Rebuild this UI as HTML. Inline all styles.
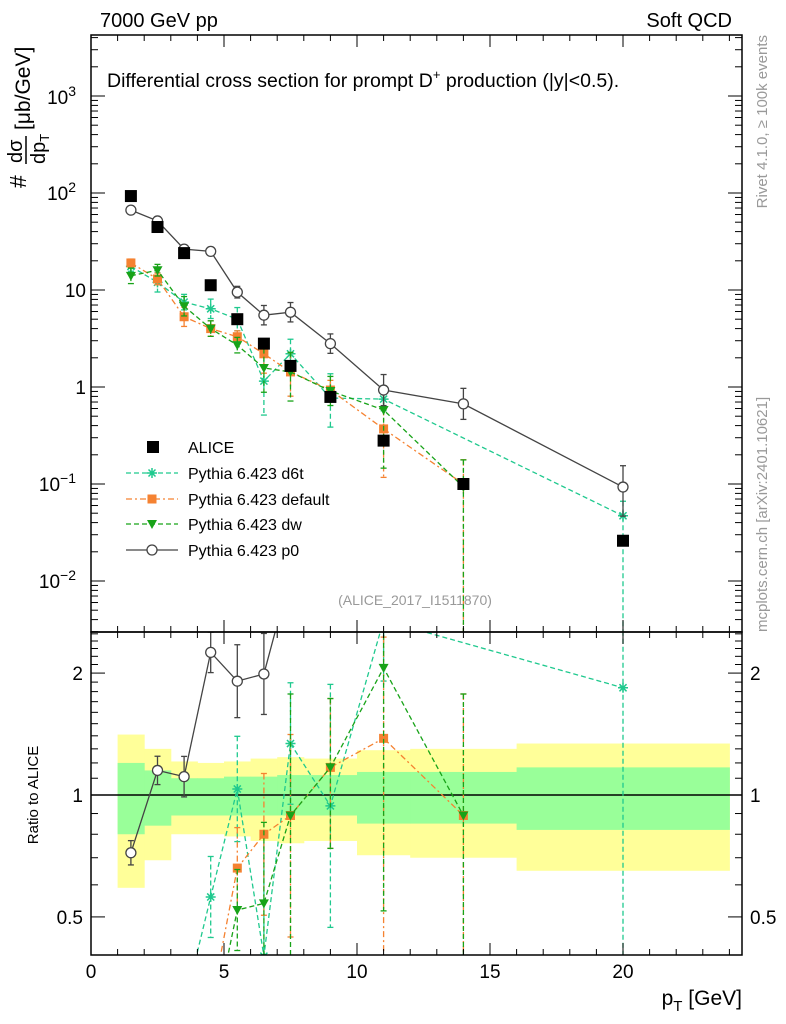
<!DOCTYPE html>
<html><head><meta charset="utf-8"><style>
html,body{margin:0;background:#fff;overflow:hidden;width:786px;height:1024px;}
svg{display:block;}
svg text{font-family:"Liberation Sans",Arial,sans-serif;}
</style></head><body>
<svg id="c" width="786" height="1024" style="position:absolute;left:0;top:0" xmlns="http://www.w3.org/2000/svg"></svg>
<script>
const xs=[1.5,2.5,3.5,4.5,5.5,6.5,7.5,9,11,14,20];
const alice=[93,44.6,24,11.2,5.0,2.8,1.65,0.79,0.28,0.10,0.026];
const p0=[66.6,51.5,26.4,25,9.5,5.5,5.9,2.8,0.93,0.67,0.093];
const p0Up=[0.01,0.02,0.03,0.02,0.06,0.1,0.1,0.1,0.16,0.16,0.22];
const p0Dn=[0.01,0.02,0.03,0.02,0.06,0.1,0.1,0.1,0.16,0.16,0.3];
const d6tX=[1.5,2.5,3.5,4.5,5.5,6.5,7.5,9,11,20];
const d6t=[17.5,12,7.5,6.4,5.0,1.15,2.2,0.77,0.75,0.047];
const d6tUp=[0.05,0.1,0.08,0.1,0.12,0.3,0.15,0.25,0.12,0.15];
const d6tDn=[0.05,0.1,0.08,0.1,0.12,0.35,0.15,0.3,0.12,3];
const defX=[1.5,2.5,3.5,4.5,5.5,6.5,7.5,9,11,14];
const def=[19,13,5.3,4.0,3.3,2.2,1.43,0.93,0.37,0.10];
const defUp=[0.04,0.06,0.1,0.08,0.06,0.15,0.2,0.1,0.2,0.25];
const defDn=[0.04,0.06,0.1,0.08,0.06,0.2,0.25,0.1,0.5,3];
const dwX=[1.5,2.5,3.5,4.5,5.5,6.5,7.5,9,11,14];
const dw=[14,16,6.8,4.0,2.7,1.57,1.43,0.91,0.58,0.093];
const dwUp=[0.08,0.06,0.1,0.08,0.08,0.2,0.2,0.15,0.25,0.28];
const dwDn=[0.08,0.06,0.1,0.08,0.08,0.25,0.3,0.15,0.6,3];
const rP0X=[1.5,2.5,3.5,4.5,5.5,6.5,7.5];
const rP0=[0.72,1.15,1.11,2.25,1.91,1.99,3.5];
const rP0Up=[0.03,0.035,0.05,0.05,0.09,0.1,0.1];
const rP0Dn=[0.03,0.035,0.05,0.05,0.09,0.1,0.1];
const rD6tX=[3.5,4.5,5.5,6.5,7.5,9,11,20];
const rD6t=[0.3,0.56,1.035,0.40,1.34,0.94,2.7,1.84];
const rD6tUp=[0.1,0.1,0.13,0.3,0.15,0.3,0.15,0.2];
const rD6tDn=[0.1,0.1,0.13,0.3,0.15,0.3,0.15,3];
const rDefX=[4.5,5.5,6.5,7.5,9,11,14];
const rDef=[0.3,0.66,0.80,0.89,1.17,1.38,0.89];
const rDefUp=[0.1,0.1,0.15,0.2,0.17,0.25,0.3];
const rDefDn=[0.1,0.1,0.2,0.3,0.2,0.8,3];
const rDwX=[4.5,5.5,6.5,7.5,9,11,14];
const rDw=[0.25,0.52,0.54,0.89,1.17,2.06,0.89];
const rDwUp=[0.1,0.1,0.2,0.3,0.17,0.2,0.3];
const rDwDn=[0.1,0.1,0.3,0.35,0.2,0.6,3];
const binEdges=[1,2,3,4,5,6,7,8,10,12,16,24];
const yelHi=[1.41,1.30,1.21,1.20,1.21,1.23,1.24,1.23,1.29,1.30,1.34];
const yelLo=[0.59,0.69,0.80,0.80,0.79,0.77,0.76,0.77,0.71,0.70,0.65];
const grnHi=[1.20,1.15,1.10,1.10,1.11,1.11,1.12,1.12,1.14,1.14,1.17];
const grnLo=[0.80,0.84,0.89,0.89,0.89,0.89,0.89,0.89,0.85,0.85,0.82];

const S=document.getElementById('c');const NS='http://www.w3.org/2000/svg';
function el(t,a,p){const e=document.createElementNS(NS,t);for(const k in a)e.setAttribute(k,a[k]);(p||S).appendChild(e);return e;}
const L=91,R=742,T=35,M=632,B=955;
const X=v=>L+v*(623-L)/20;
const Y=v=>387-97*Math.log10(v);
const RY=v=>795-405*Math.log10(v);
const clipM=el('clipPath',{id:'cm'});el('rect',{x:L,y:T,width:R-L,height:M-T},clipM);
const clipR=el('clipPath',{id:'cr'});el('rect',{x:L,y:M,width:R-L,height:B-M},clipR);

const bandG=el('g',{'clip-path':'url(#cr)'});


for(let i=0;i<yelHi.length;i++){
 const r=el('rect',{x:X(binEdges[i]),y:RY(yelHi[i]),width:X(binEdges[i+1])-X(binEdges[i])+0.5,height:RY(yelLo[i])-RY(yelHi[i]),fill:'#ffff99'},bandG);
 
 
}
for(let i=0;i<grnHi.length;i++){
 const r=el('rect',{x:X(binEdges[i]),y:RY(grnHi[i]),width:X(binEdges[i+1])-X(binEdges[i])+0.5,height:RY(grnLo[i])-RY(grnHi[i]),fill:'#99ff99'},bandG);
 
 
}
el('line',{x1:L,x2:R,y1:RY(1),y2:RY(1),stroke:'#000','stroke-width':1.5});

function marker(type,x,y,c,g){
 if(type==='sq')el('rect',{x:x-6,y:y-6,width:12,height:12,fill:c},g);
 else if(type==='osq')el('rect',{x:x-4.5,y:y-4.5,width:9,height:9,fill:c},g);
 else if(type==='circ')el('circle',{cx:x,cy:y,r:5,fill:'#fff',stroke:c,'stroke-width':1.3},g);
 else if(type==='tri')el('path',{d:`M${x-5},${y-4}L${x+5},${y-4}L${x},${y+5}Z`,fill:c},g);
 else if(type==='star'){let d='';for(let k=0;k<4;k++){const a=k*Math.PI/4;d+=`M${x-5*Math.cos(a)},${y-5*Math.sin(a)}L${x+5*Math.cos(a)},${y+5*Math.sin(a)}`;}el('path',{d,stroke:c,'stroke-width':1.5},g);}
}
function series(name,xa,ya,eu,ed,Yf,c,dash,type,clip){
 const g=el('g',{'clip-path':`url(#${clip})`});
 
 
 let d='';xa.forEach((x,i)=>{d+=(i?'L':'M')+X(x)+','+Yf(ya[i]);});
 el('path',{d,fill:'none',stroke:c,'stroke-width':1.3,'stroke-dasharray':dash},g);
 xa.forEach((x,i)=>{const v=ya[i];const y1=Yf(v*Math.pow(10,eu[i])),y2=Yf(v*Math.pow(10,-ed[i]));
  el('line',{x1:X(x),x2:X(x),y1,y2,stroke:c,'stroke-width':1.3,'stroke-dasharray':dash},g);
  el('line',{x1:X(x)-3,x2:X(x)+3,y1,y2:y1,stroke:c,'stroke-width':1.3},g);
  el('line',{x1:X(x)-3,x2:X(x)+3,y1:y2,y2:y2,stroke:c,'stroke-width':1.3},g);});
 xa.forEach((x,i)=>marker(type,X(x),Yf(ya[i]),c,g));
}
const cD6t='#1fc98e',cDef='#f58231',cDw='#18a318',cP0='#444';
series('series-d6t',d6tX,d6t,d6tUp,d6tDn,Y,cD6t,'5,3','star','cm');
series('series-default',defX,def,defUp,defDn,Y,cDef,'6,3,2,3','osq','cm');
series('series-dw',dwX,dw,dwUp,dwDn,Y,cDw,'5,3','tri','cm');
series('series-p0',xs,p0,p0Up,p0Dn,Y,cP0,'','circ','cm');
const ga=el('g',{'clip-path':'url(#cm)'});


xs.forEach((x,i)=>marker('sq',X(x),Y(alice[i]),'#000',ga));

series('ratio-d6t',rD6tX,rD6t,rD6tUp,rD6tDn,RY,cD6t,'5,3','star','cr');
series('ratio-default',rDefX,rDef,rDefUp,rDefDn,RY,cDef,'6,3,2,3','osq','cr');
series('ratio-dw',rDwX,rDw,rDwUp,rDwDn,RY,cDw,'5,3','tri','cr');
series('ratio-p0',rP0X,rP0,rP0Up,rP0Dn,RY,cP0,'','circ','cr');

el('rect',{x:L,y:T,width:R-L,height:M-T,fill:'none',stroke:'#000','stroke-width':1.5});
el('rect',{x:L,y:M,width:R-L,height:B-M,fill:'none',stroke:'#000','stroke-width':1.5});
for(let v=0;v<=24;v++){const len=v%5===0?12:6;const x=X(v);
 [[T,1],[M,-1],[M,1],[B,-1]].forEach(([y,s])=>el('line',{x1:x,x2:x,y1:y,y2:y+s*len,stroke:'#000','stroke-width':1}));
 if(v%5===0){const t=el('text',{x,y:978,'text-anchor':'middle','font-size':19});t.textContent=v;
  
  }}
for(let e=-3;e<=3;e++)for(let m=1;m<10;m++){const v=m*Math.pow(10,e);const y=Y(v);if(y<T||y>M)continue;const len=m===1?14:7;
 el('line',{x1:L,x2:L+len,y1:y,y2:y,stroke:'#000'});el('line',{x1:R,x2:R-len,y1:y,y2:y,stroke:'#000'});}
const yl=[['10','-2',581],['10','-1',484],['1','',387],['10','',290],['10','2',193],['10','3',97]];
yl.forEach(([b,s,y])=>{const t=el('text',{x:s?76:86,y:y+7,'text-anchor':'end','font-size':19});t.textContent=b;
 if(s){const ts=el('tspan',{dy:-8,'font-size':14},t);ts.textContent=s==='-2'?'−2':s==='-1'?'−1':s;}
 
 });
for(let v=0.4;v<=2.55;v+=0.1){const y=RY(v);if(y<M||y>B)continue;const big=Math.abs(v-0.5)<1e-6||Math.abs(v-1)<1e-6||Math.abs(v-2)<1e-6;const len=big?14:7;
 el('line',{x1:L,x2:L+len,y1:y,y2:y,stroke:'#000'});el('line',{x1:R,x2:R-len,y1:y,y2:y,stroke:'#000'});}
[['2',2],['1',1],['0.5',0.5]].forEach(([s,v])=>{const t=el('text',{x:83,y:RY(v)+7,'text-anchor':'end','font-size':19});t.textContent=s;
 
 
 const t2=el('text',{x:750,y:RY(v)+7,'font-size':19});t2.textContent=s;
 
 });
</script>
<svg width="786" height="1024" style="position:absolute;left:0;top:0" xmlns="http://www.w3.org/2000/svg">
<text x="100" y="27" font-size="20" font-family="Liberation Sans">7000 GeV pp</text>
<text x="732" y="27" font-size="20" text-anchor="end" font-family="Liberation Sans">Soft QCD</text>
<text x="107" y="87" font-size="19.5" font-family="Liberation Sans">Differential cross section for prompt D<tspan dy="-8" font-size="13">+</tspan><tspan dy="8"> production (|y|&lt;0.5).</tspan></text>
<g transform="rotate(-90)" font-family="Liberation Sans">
<text x="-188" y="26" font-size="23">#</text>
<text x="-163" y="22" font-size="20">dσ</text>
<line x1="-164" x2="-136" y1="26" y2="26" stroke="#000" stroke-width="1.5"/>
<text x="-164" y="45" font-size="20">dp<tspan dy="4" font-size="13">T</tspan></text>
<text x="-130" y="30" font-size="21">[μb/GeV]</text>
</g>
<text transform="translate(38,795) rotate(-90)" text-anchor="middle" font-size="15" font-family="Liberation Sans">Ratio to ALICE</text>
<text x="742" y="1005" text-anchor="end" font-size="21" font-family="Liberation Sans">p<tspan dy="6" font-size="15">T</tspan><tspan dy="-6"> [GeV]</tspan></text>
<text transform="translate(767,35) rotate(-90)" text-anchor="end" font-size="15" fill="#999" font-family="Liberation Sans">Rivet 4.1.0, ≥ 100k events</text>
<text transform="translate(767,632) rotate(-90)" font-size="15" fill="#999" font-family="Liberation Sans">mcplots.cern.ch [arXiv:2401.10621]</text>
<text x="415" y="605" text-anchor="middle" font-size="14" fill="#999" font-family="Liberation Sans">(ALICE_2017_I1511870)</text>
<g font-family="Liberation Sans" font-size="16">
<g><rect x="147" y="441" width="12" height="12" fill="#000"/><text x="188" y="453">ALICE</text></g>
<g><line x1="126" x2="178" y1="473" y2="473" stroke="#1fc98e" stroke-width="1.3" stroke-dasharray="5,3"/><path d="M147,473h10M152,468v10M148.5,469.5l7,7M155.5,469.5l-7,7" stroke="#1fc98e" stroke-width="1.5"/><text x="188" y="479">Pythia 6.423 d6t</text></g>
<g><line x1="126" x2="178" y1="499" y2="499" stroke="#f58231" stroke-width="1.3" stroke-dasharray="6,3,2,3"/><rect x="147.5" y="494.5" width="9" height="9" fill="#f58231"/><text x="188" y="505">Pythia 6.423 default</text></g>
<g><line x1="126" x2="178" y1="524" y2="524" stroke="#18a318" stroke-width="1.3" stroke-dasharray="5,3"/><path d="M147,520L157,520L152,529Z" fill="#18a318"/><text x="188" y="530">Pythia 6.423 dw</text></g>
<g><line x1="126" x2="178" y1="550" y2="550" stroke="#444" stroke-width="1.3"/><circle cx="152" cy="550" r="5" fill="#fff" stroke="#444" stroke-width="1.3"/><text x="188" y="556">Pythia 6.423 p0</text></g>
</g>
</svg>
</body></html>
